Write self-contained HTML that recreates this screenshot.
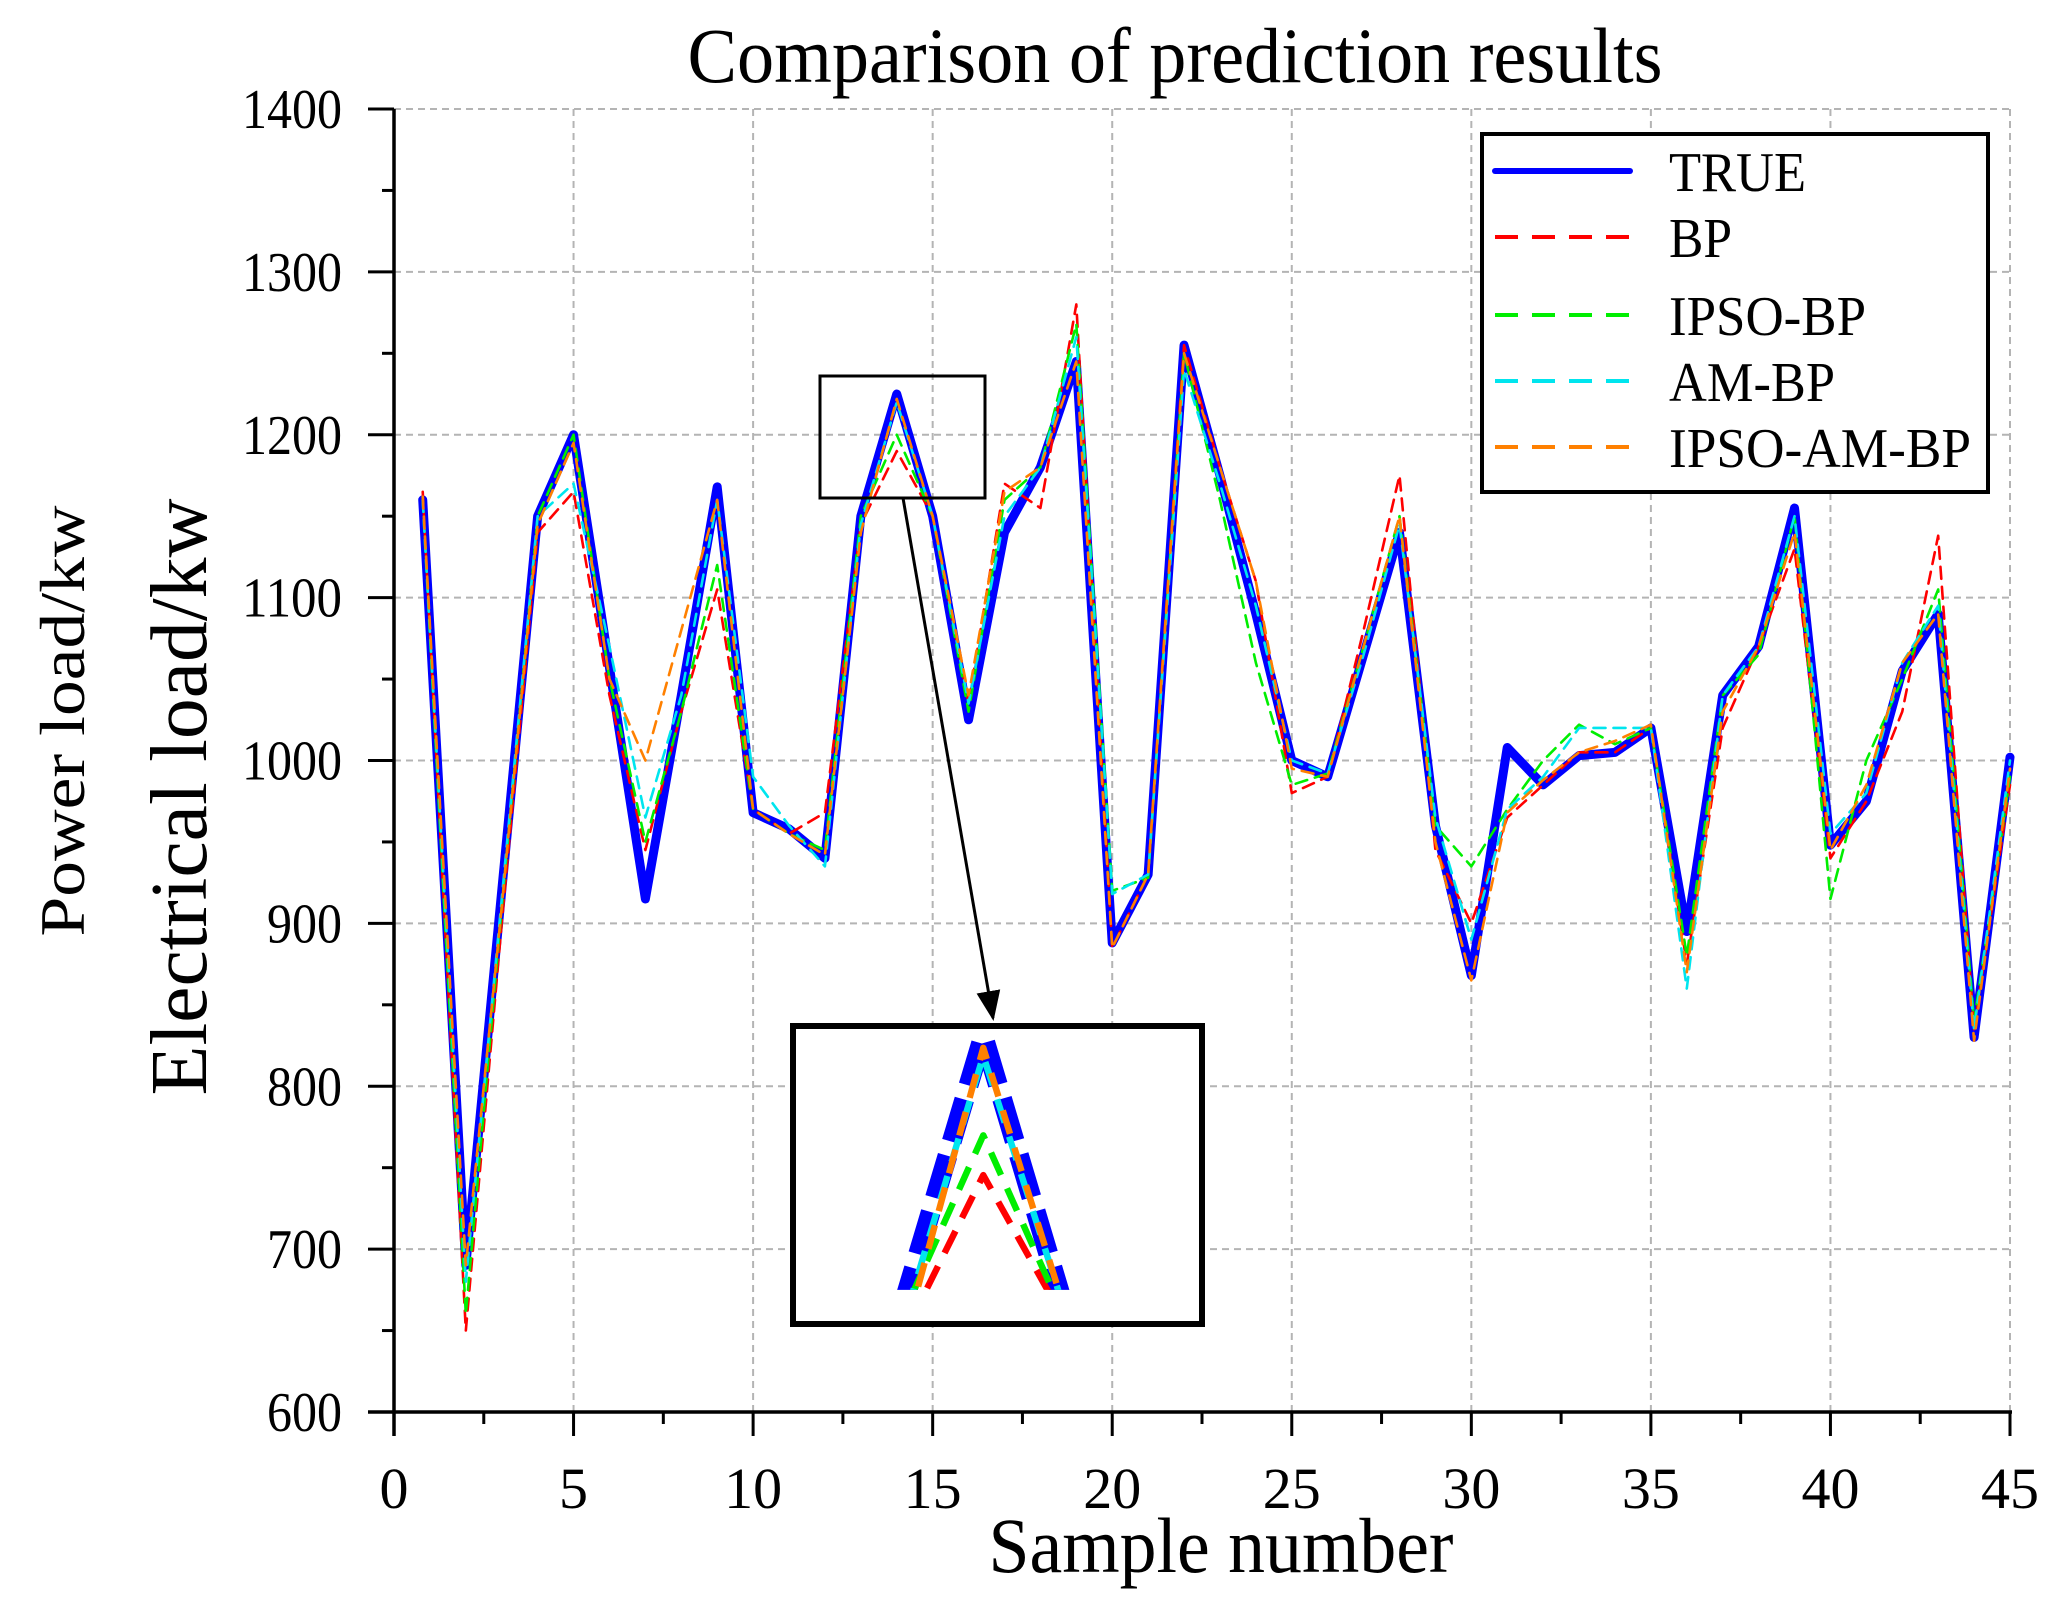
<!DOCTYPE html>
<html><head><meta charset="utf-8"><style>
html,body{margin:0;padding:0;background:#fff;overflow:hidden;width:2071px;height:1611px;}
svg{display:block;}
svg text{font-family:"Liberation Serif",serif;fill:#000;}
</style></head><body>
<svg id="chart" width="2071" height="1611" viewBox="0 0 2071 1611" xmlns="http://www.w3.org/2000/svg">
<defs>
<clipPath id="insetClip"><rect x="820" y="376" width="165" height="122"/></clipPath>
<marker id="arrowHead" markerWidth="10" markerHeight="10" refX="9" refY="5" orient="auto" markerUnits="strokeWidth"><path d="M0,1 L10,5 L0,9 z" fill="#000"/></marker>
</defs>
<text x="1175" y="82" font-size="78" text-anchor="middle" textLength="975" lengthAdjust="spacingAndGlyphs">Comparison of prediction results</text>
<g id="grid"></g>
<g id="axes"></g>
<g id="series"></g>
<rect x="820" y="376" width="165" height="122" fill="none" stroke="#000" stroke-width="3"/>
<line x1="903" y1="498" x2="993" y2="1018" stroke="#000" stroke-width="3" marker-end="url(#arrowHead)"/>
<rect x="793" y="1026" width="409" height="298" fill="#fff" stroke="#000" stroke-width="6"/>
<g id="insetWrap" transform="translate(793,1026) scale(2.479,2.443) translate(-820,-390)">
<g clip-path="url(#insetClip)" id="inset"></g>
</g>
<rect x="793" y="1026" width="409" height="298" fill="none" stroke="#000" stroke-width="6"/>
<text x="1221" y="1572" font-size="78" text-anchor="middle" textLength="465" lengthAdjust="spacingAndGlyphs">Sample number</text>
<text transform="translate(206,797) rotate(-90)" font-size="80" text-anchor="middle" textLength="597" lengthAdjust="spacingAndGlyphs">Electrical load/kw</text>
<text transform="translate(84,721) rotate(-90)" font-size="64" text-anchor="middle" textLength="431" lengthAdjust="spacingAndGlyphs">Power load/kw</text>
<g id="legend"></g>
</svg>
<script>
const xTicks=[0,5,10,15,20,25,30,35,40,45];
const yTicks=[600,700,800,900,1000,1100,1200,1300,1400];
const samples=[0.8,2,3,4,5,6,7,8,9,10,11,12,13,14,15,16,17,18,19,20,21,22,23,24,25,26,27,28,29,30,31,32,33,34,35,36,37,38,39,40,41,42,43,44,45];
const trueVals=[1160,690,920,1150,1200,1057,915,1040,1168,968,958,940,1150,1225,1150,1025,1140,1180,1245,888,930,1255,1175,1090,1000,990,1065,1140,960,868,1008,985,1003,1005,1020,895,1040,1070,1155,948,975,1055,1090,830,1002];
const bpVals=[1165,650,900,1140,1165,1040,945,1030,1105,970,955,968,1145,1190,1150,1035,1170,1155,1280,885,930,1255,1180,1110,980,990,1080,1175,945,900,965,985,1005,1005,1020,875,1020,1070,1130,940,975,1030,1138,835,985];
const ipsoBpVals=[1160,660,910,1150,1200,1050,950,1030,1120,970,955,945,1150,1200,1150,1030,1160,1180,1268,920,928,1250,1160,1060,985,992,1070,1150,960,935,970,1000,1022,1010,1020,880,1040,1065,1150,915,1000,1050,1105,840,990];
const amBpVals=[1160,680,915,1150,1170,1070,965,1040,1160,990,960,935,1145,1220,1150,1035,1150,1180,1260,918,930,1240,1170,1095,1000,992,1065,1145,965,890,970,990,1020,1020,1020,860,1040,1070,1150,955,980,1060,1095,835,1000];
const ipsoAmBpVals=[1162,690,910,1145,1195,1050,1000,1080,1160,970,955,942,1140,1222,1150,1040,1165,1180,1245,885,930,1250,1180,1110,995,990,1070,1150,950,865,968,988,1005,1012,1022,870,1030,1070,1140,945,985,1060,1090,828,995];
const seriesNames=["TRUE","BP","IPSO-BP","AM-BP","IPSO-AM-BP"];
const seriesColors=["#0000ff","#ff0000","#00ee00","#00e5ee","#ff8000"];

const NS="http://www.w3.org/2000/svg";
const X0=394,X1=2010,Y0=1412,Y1=109;
function sx(v){return X0+(v-0)/(45-0)*(X1-X0);}
function sy(v){return Y0-(v-600)/(1400-600)*(Y0-Y1);}
function mk(tag,attrs,parent){const e=document.createElementNS(NS,tag);for(const k in attrs)e.setAttribute(k,attrs[k]);parent.appendChild(e);return e;}

const grid=document.getElementById('grid');
xTicks.forEach(t=>{if(t===0)return;
 const l=mk('line',{x1:sx(t),x2:sx(t),y1:Y1,y2:Y0,stroke:'#b4b4b4','stroke-width':2,'stroke-dasharray':'7 5'},grid);
 
 
});
yTicks.forEach(t=>{if(t===600)return;
 const l=mk('line',{x1:X0,x2:X1,y1:sy(t),y2:sy(t),stroke:'#b4b4b4','stroke-width':2,'stroke-dasharray':'7 5'},grid);
 
 
});

const axes=document.getElementById('axes');
const xa=mk('line',{x1:X0-26,x2:X1+2,y1:Y0,y2:Y0,stroke:'#000','stroke-width':3.5},axes);


const ya=mk('line',{x1:X0,x2:X0,y1:Y1,y2:Y0+24,stroke:'#000','stroke-width':3.5},axes);


for(let i=0;i<xTicks.length;i++){
 const t=xTicks[i];
 const tk=mk('line',{x1:sx(t),x2:sx(t),y1:Y0,y2:Y0+24,stroke:'#000','stroke-width':3},axes);
 
 
 if(i<xTicks.length-1){
  const m=(t+xTicks[i+1])/2;
  const mt=mk('line',{x1:sx(m),x2:sx(m),y1:Y0,y2:Y0+12,stroke:'#000','stroke-width':3},axes);
  
  
 }
 const lb=mk('text',{x:sx(t),y:Y0+96,'font-size':58,'text-anchor':'middle'},axes);
 lb.textContent=String(t);
 
 
}
for(let i=0;i<yTicks.length;i++){
 const t=yTicks[i];
 const tk=mk('line',{x1:X0-26,x2:X0,y1:sy(t),y2:sy(t),stroke:'#000','stroke-width':3},axes);
 
 
 if(i<yTicks.length-1){
  const m=(t+yTicks[i+1])/2;
  const mt=mk('line',{x1:X0-12,x2:X0,y1:sy(m),y2:sy(m),stroke:'#000','stroke-width':3},axes);
  
  
 }
 const lb=mk('text',{x:342,y:sy(t)+19,'font-size':56,'text-anchor':'end',textLength:String(t).length*25,lengthAdjust:'spacingAndGlyphs'},axes);
 lb.textContent=String(t);
 
 
}

const allVals=[trueVals,bpVals,ipsoBpVals,amBpVals,ipsoAmBpVals];
function pts(vals){return samples.map((s,i)=>sx(s)+','+sy(vals[i])).join(' ');}
const series=document.getElementById('series');
const inset=document.getElementById('inset');
allVals.forEach((vals,k)=>{
 const isTrue=k===0;
 const attrs={points:pts(vals),fill:'none',stroke:seriesColors[k],'stroke-width':isTrue?9:2.6,'stroke-linejoin':'round','stroke-linecap':'round'};
 if(!isTrue) attrs['stroke-dasharray']='12 8';
 const pl=mk('polyline',attrs,series);
 
 
 const ia={points:pts(vals),fill:'none',stroke:seriesColors[k],'stroke-width':isTrue?8:2.6,'stroke-linejoin':'round','stroke-dasharray':isTrue?'18 6':'10 6'};
 const ip=mk('polyline',ia,inset);
 
 
});

const legend=document.getElementById('legend');
const lbox=mk('rect',{x:1482,y:134,width:506,height:358,fill:'#fff',stroke:'#000','stroke-width':4},legend);


const ly=[171,237,315,381,447];
const lw=[137,63,197,166,302];
seriesNames.forEach((n,k)=>{
 const g=mk('g',{},legend);
 
 
 const la={x1:1495,x2:1630,y1:ly[k],y2:ly[k],stroke:seriesColors[k],'stroke-width':k===0?6:4,'stroke-linecap':k===0?'round':'butt'};
 if(k>0) la['stroke-dasharray']='23 14';
 const l=mk('line',la,g);
 
 
 const t=mk('text',{x:1669,y:ly[k]+20,'font-size':56,textLength:lw[k],lengthAdjust:'spacingAndGlyphs'},g);
 t.textContent=n;
 
 
});
</script>
</body></html>
